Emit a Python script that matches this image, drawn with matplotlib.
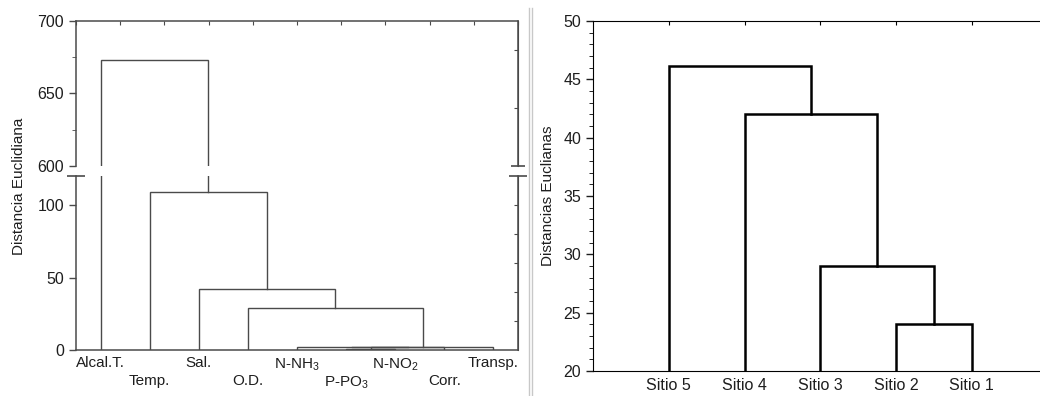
import numpy as np
import matplotlib.pyplot as plt
from matplotlib.lines import Line2D
from matplotlib.ticker import MultipleLocator

plt.rcParams['font.family'] = ['Liberation Sans', 'DejaVu Sans']
plt.rcParams['mathtext.fontset'] = 'custom'
plt.rcParams['mathtext.rm'] = 'Liberation Sans'

# left dendrogram (variables)
var_labels = ['Alcal.T.', 'Temp.', 'Sal.', 'O.D.', 'N-NH$_3$', 'P-PO$_3$',
              'N-NO$_2$', 'Corr.', 'Transp.']
# merges: (left child, right child, height); new clusters numbered from len(labels)
var_merges = [(5, 6, 1.0), (9, 7, 1.9), (4, 10, 2.1), (11, 8, 2.3),
              (3, 12, 29.0), (2, 13, 42.0), (1, 14, 109.0), (0, 15, 673.0)]

# right dendrogram (sites)
site_labels = ['Sitio 5', 'Sitio 4', 'Sitio 3', 'Sitio 2', 'Sitio 1']
site_merges = [(3, 4, 24.0), (2, 5, 29.0), (1, 6, 42.0), (0, 7, 46.1)]


def dendro_segments(n, merges):
    xs = {i: i + 1.0 for i in range(n)}
    hs = {i: 0.0 for i in range(n)}
    segs = []
    for k, (a, b, h) in enumerate(merges):
        segs.append(([xs[a], xs[a], xs[b], xs[b]], [hs[a], h, h, hs[b]]))
        xs[n + k] = (xs[a] + xs[b]) / 2
        hs[n + k] = h
    return segs


W, H = 1040, 396
fig = plt.figure(figsize=(W / 100, H / 100), dpi=100)

ax_hi = fig.add_axes([76 / W, 1 - 165.7 / H, 442 / W, 144.7 / H])
ax_lo = fig.add_axes([76 / W, 46 / H, 442 / W, 174 / H])
ax_r = fig.add_axes([593 / W, 25 / H, 447 / W, 350 / H])

gray = '#4a4a4a'
txt = '#1e1e1e'
for ax in (ax_hi, ax_lo):
    for xs, ys in dendro_segments(len(var_labels), var_merges):
        ax.plot(xs, ys, color=gray, lw=1.0, solid_joinstyle='miter')
    ax.set_xlim(0.5, 9.5)
    for s in ax.spines.values():
        s.set_color(gray)
        s.set_linewidth(1.1)
    ax.tick_params(axis='y', labelsize=11.5, colors=txt, direction='out',
                   length=5, width=1, color=gray)

ax_hi.set_ylim(600, 700)
ax_hi.set_yticks([600, 650, 700])
ax_hi.yaxis.set_minor_locator(MultipleLocator(25))
ax_hi.tick_params(axis='y', which='minor', length=3, color=gray)
ax_hi.spines['bottom'].set_visible(False)
ax_hi.xaxis.set_ticks_position('top')
ax_hi.set_xticks(np.linspace(0.5, 9.5, 11))
ax_hi.tick_params(axis='x', direction='in', length=3, color=gray, labeltop=False,
                  labelbottom=False)
sec_hi = ax_hi.secondary_yaxis('right')
sec_hi.set_yticks([640, 680])
sec_hi.tick_params(direction='in', length=3, color=gray, labelright=False)
sec_hi.spines['right'].set_color(gray)

ax_lo.set_ylim(0, 120)
ax_lo.set_yticks([0, 50, 100])
ax_lo.spines['top'].set_visible(False)
ax_lo.set_xticks([])
sec_lo = ax_lo.secondary_yaxis('right')
sec_lo.set_yticks([20, 40, 60, 80, 100])
sec_lo.tick_params(direction='in', length=3, color=gray, labelright=False)
sec_lo.spines['right'].set_color(gray)

# break caps
ax_lo.plot([0, 1], [1, 1], marker='_', markersize=13, mew=1.2, ls='none',
           color=gray, transform=ax_lo.transAxes, clip_on=False)
ax_hi.plot([1], [0], marker='_', markersize=10, mew=1.2, ls='none',
           color=gray, transform=ax_hi.transAxes, clip_on=False)

# staggered leaf labels
for i, lab in enumerate(var_labels):
    off = -6 if i % 2 == 0 else -24
    ax_lo.annotate(lab, (i + 1, 0), xycoords=('data', 'axes fraction'),
                   xytext=(0, off), textcoords='offset pixels', ha='center',
                   va='top', fontsize=11, color=txt)

fig.text(19 / W, 1 - 186 / H, 'Distancia Euclidiana', rotation=90,
         ha='center', va='center', fontsize=11, color=txt)

# right panel
for xs, ys in dendro_segments(len(site_labels), site_merges):
    ax_r.plot(xs, ys, color='black', lw=1.8, solid_joinstyle='miter')
ax_r.set_xlim(0, 5.9)
ax_r.set_ylim(20, 50)
ax_r.spines['right'].set_visible(False)
ax_r.set_xticks(range(1, len(site_labels) + 1))
ax_r.set_xticklabels(site_labels, fontsize=11.5, color=txt)
ax_r.tick_params(axis='x', bottom=False, top=True, direction='in', length=3,
                 pad=5)
ax_r.set_yticks([20, 25, 30, 35, 40, 45, 50])
ax_r.yaxis.set_minor_locator(MultipleLocator(1))
ax_r.tick_params(axis='y', labelsize=11.5, colors=txt, direction='out',
                 length=5, width=1)
ax_r.tick_params(axis='y', which='minor', length=3)
ax_r.set_ylabel('Distancias Euclianas', fontsize=11, color=txt,
                labelpad=6)

# separator between panels
for xp in (529, 532):
    fig.add_artist(Line2D([xp / W, xp / W], [0, 1 - 8 / H], color='#c8c8c8',
                          lw=1.0))

fig.savefig('out.png', dpi=100, facecolor='white')
